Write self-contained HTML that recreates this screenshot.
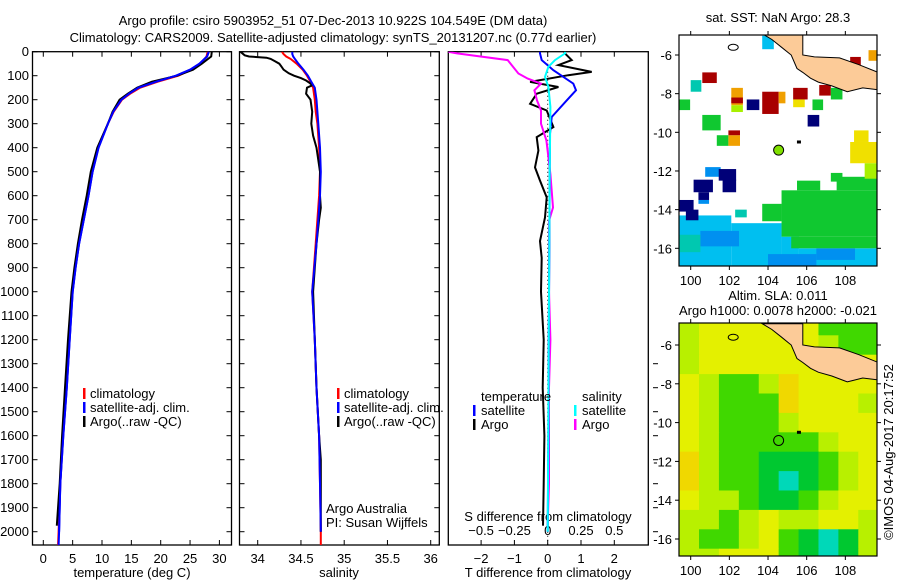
<!DOCTYPE html>
<html><head><meta charset="utf-8"><style>
html,body{margin:0;padding:0;background:#fff}
svg{display:block;font-family:"Liberation Sans",sans-serif}
text{font-size:13px;fill:#000}
</style></head><body>
<svg id="s" width="900" height="580" viewBox="0 0 900 580" xmlns="http://www.w3.org/2000/svg">
<rect width="900" height="580" fill="#fff"/>
<defs>
<clipPath id="c1"><rect x="32.5" y="51.7" width="199" height="493.3"/></clipPath>
<clipPath id="c2"><rect x="239.5" y="51.7" width="200" height="493.3"/></clipPath>
<clipPath id="c3"><rect x="448.3" y="51.7" width="200" height="493.3"/></clipPath>
<clipPath id="cm1"><rect x="679" y="35" width="198" height="231"/></clipPath>
<clipPath id="cm2"><rect x="679" y="323" width="198" height="233"/></clipPath>
</defs>
<text x="333" y="25" text-anchor="middle">Argo profile: csiro 5903952_51 07-Dec-2013 10.922S 104.549E (DM data)</text>
<text x="333" y="42" text-anchor="middle">Climatology: CARS2009. Satellite-adjusted climatology: synTS_20131207.nc (0.77d earlier)</text>
<g id="g1"></g>
<g id="g2"></g>
<g id="g3"></g>
<g id="m1"></g>
<g id="m2"></g>
<text transform="translate(893,452) rotate(-90)" text-anchor="middle">©IMOS 04-Aug-2017 20:17:52</text>
</svg>
<script>
// ---- data ----
const depthTicks=[0,100,200,300,400,500,600,700,800,900,1000,1100,1200,1300,1400,1500,1600,1700,1800,1900,2000];
const tempTicks=[0,5,10,15,20,25,30];
const salTicks=[34,34.5,35,35.5,36];
const tdTicks=[-2,-1,0,1,2];
const sdTicks=[-0.5,-0.25,0,0.25,0.5];
const sdTickLabels=['−0.5','−0.25','0','0.25','0.5'];
const tdTickLabels=['−2','−1','0','1','2'];
const dT=[0,20,50,75,100,125,150,175,200,250,300,400,500,600,700,800,900,1000,1200,1400,1600,1800,2000,2060];
const climT=[28.0,27.8,26.8,25.2,23.0,19.5,16.5,14.8,13.4,12.0,11.0,9.3,8.3,7.6,6.8,6.0,5.4,4.9,4.4,3.9,3.3,2.9,2.6,2.5];
const satT=[28.2,27.9,26.6,25.0,22.6,19.2,16.2,14.6,13.3,11.9,11.0,9.4,8.4,7.7,6.9,6.1,5.5,5.0,4.5,4.0,3.4,2.9,2.7,2.6];
const dTa=[0,20,50,75,100,125,150,175,200,250,300,400,500,600,700,800,900,1000,1200,1400,1600,1800,1975];
const argoT=[28.7,28.6,27.0,25.5,22.8,18.5,16.0,14.4,13.0,11.8,11.0,9.2,8.1,7.4,6.6,5.9,5.3,4.8,4.2,3.7,3.2,2.8,2.3];
const dS=[0,10,20,30,50,75,100,125,150,200,250,300,400,500,600,700,800,1000,1200,1400,1600,1800,2000,2060];
const climS=[34.28,34.30,34.33,34.38,34.45,34.52,34.57,34.61,34.64,34.66,34.67,34.69,34.71,34.72,34.71,34.69,34.67,34.63,34.66,34.68,34.71,34.72,34.73,34.73];
const satS=[34.40,34.40,34.41,34.43,34.47,34.53,34.58,34.62,34.66,34.68,34.69,34.70,34.72,34.73,34.72,34.70,34.68,34.63,34.66,34.68,34.71,34.72,34.73,34.73];
const dSa=[0,15,20,25,30,40,50,60,75,90,100,110,120,130,140,150,175,200,250,300,350,400,500,600,650,700,800,1000,1200,1400,1600,1700,1800,2000];
const argoS=[33.8,33.85,33.9,34.1,34.15,34.2,34.25,34.27,34.3,34.36,34.42,34.5,34.56,34.6,34.63,34.57,34.56,34.61,34.63,34.62,34.64,34.68,34.72,34.72,34.73,34.71,34.68,34.64,34.66,34.68,34.71,34.73,34.73,34.73];
const dTds=[0,7,35,77,133,161,203,272,342,500,800,1200,1600,2000];
const satTd=[-0.23,-0.23,-0.18,0.17,0.77,0.85,0.57,0.12,0.07,0.06,0.05,0.03,0.02,0.0];
const dTda=[0,7,35,56,84,98,126,147,175,217,245,314,356,412,482,537,607,691,789,859,1000,1200,1400,1600,1800,1975];
const argoTd=[0.5,0.52,0.72,0.32,1.32,0.62,-0.53,0.32,-0.33,-0.53,-0.03,0.17,-0.33,-0.28,-0.38,-0.23,-0.03,-0.08,-0.23,-0.18,-0.2,-0.12,-0.15,-0.1,-0.12,-0.14];
const dSda=[0,7,35,56,91,112,133,161,203,245,300,370,510,649,705,800,1000,1200,1400,1600,1800,1975];
const argoSd=[-0.75,-0.68,-0.30,-0.27,-0.22,-0.15,-0.05,-0.10,-0.08,-0.05,-0.05,-0.01,0.02,0.04,0.01,0.01,0.01,0.02,0.01,0.01,0.01,0.0];
const dSds=[0,7,35,63,105,147,230,500,1000,1500,2000];
const satSd=[0.13,0.13,0.055,0.005,-0.02,0.005,0.02,0.015,0.01,0.005,0.0];
const lonTicks=[100,102,104,106,108];
const latTicks=[-6,-8,-10,-12,-14,-16];
// SST blocks: lon0, lat0, lon1, lat1, category
const sstBlocks=[
[99.4,-14.3,102.1,-17.0,'cy'],[102.1,-14.7,104.7,-17,'cy'],[104.7,-15.4,105.6,-17,'cy'],[105.6,-16.0,109.7,-17,'cy'],
[100.5,-15.1,102.5,-15.9,'bl'],[104.0,-16.3,106.5,-16.9,'bl'],[106.5,-16.0,108.5,-16.6,'bl'],[99.4,-15.3,100.5,-16.2,'te'],
[105.5,-12.5,106.7,-13.0,'g'],[107.25,-12.1,107.85,-12.55,'g'],[107.55,-12.3,109.7,-13.0,'g'],[104.7,-13.0,109.7,-15.4,'g'],
[103.7,-13.7,104.7,-14.6,'g'],[105.2,-15.4,109.7,-16.0,'g'],[102.3,-14.0,102.9,-14.4,'te'],
[100.6,-6.9,101.35,-7.45,'dr'],[100.0,-7.3,100.55,-7.9,'te'],[99.4,-8.3,99.97,-8.85,'g'],
[103.7,-7.9,104.55,-9.05,'dr'],[104.55,-7.9,104.9,-8.5,'or'],[105.3,-7.7,106.05,-8.3,'dr'],[105.3,-8.3,105.9,-8.7,'ye'],
[106.3,-8.3,106.85,-8.85,'g'],[106.05,-9.1,106.65,-9.7,'na'],[102.9,-8.3,103.55,-8.85,'na'],
[102.1,-7.7,102.7,-8.6,'or'],[102.1,-8.2,102.7,-8.5,'dr'],[102.1,-8.6,102.7,-8.95,'lg'],
[100.6,-9.1,101.55,-9.9,'g'],[101.35,-10.15,101.95,-10.7,'g'],[101.95,-10.15,102.55,-10.7,'or'],[101.95,-9.9,102.55,-10.15,'dr'],
[106.65,-7.55,107.25,-8.1,'dr'],[107.25,-7.7,107.85,-8.3,'g'],[108.25,-6.1,108.8,-6.7,'dr'],[109.2,-5.75,109.7,-6.3,'or'],
[103.7,-5.0,104.3,-5.7,'cy'],[108.45,-9.9,109.2,-10.5,'ye'],[108.25,-10.5,109.7,-11.6,'ye'],[109.0,-11.6,109.7,-12.4,'lg'],
[100.75,-11.8,101.55,-12.3,'bl'],[101.45,-11.9,102.35,-12.5,'na'],[101.65,-12.45,102.35,-13.1,'na'],[100.15,-12.45,101.15,-13.1,'na'],
[100.4,-13.1,100.95,-13.5,'na'],[100.4,-13.5,100.95,-13.7,'bl'],[99.4,-13.5,100.15,-14.1,'na'],[99.75,-14.0,100.4,-14.55,'na']
];
const sstColor={cy:'#00bff0',bl:'#0090f0',te:'#00c8b0',g:'#10c830',dr:'#a80000',or:'#f0a000',ye:'#f0e000',lg:'#a8f000',na:'#000078'};
// SLA grid rows lat -5..-17 (1 deg), cols lon 99.4..109.7
const slaLat=[-5,-6,-7,-8,-9,-10,-11,-12,-13,-14,-15,-16,-17];
const slaLon=[99.4,100.43,101.46,102.49,103.52,104.55,105.58,106.61,107.64,108.67];
const slaGrid=[
[0,1,1,1,1,1,1,-1,-1,-1],
[0,1,1,1,1,1,1,0,-1,-1],
[0,1,1,1,1,1,1,1,1,1],
[1,0,-1,-1,0,2,1,1,1,1],
[1,0,-1,-1,-1,2,1,1,1,0],
[1,0,-1,-1,-1,0,1,1,1,1],
[1,0,-1,-1,-1,-1,-1,0,1,1],
[2,0,-1,-1,-2,-2,-2,-1,0,1],
[2,0,-1,-1,-2,-3,-2,-1,0,1],
[1,0,0,-1,-2,-2,-1,0,1,1],
[0,0,-1,0,1,0,0,1,1,0],
[0,-1,-1,0,1,-1,-2,-3,-2,0],
[0,0,1,1,1,-1,-2,-3,-2,0]];
const argoLon=104.549, argoLat=-10.922;

// ---- helpers ----
const NS='http://www.w3.org/2000/svg';
function mk(parent,tag,attrs){const e=document.createElementNS(NS,tag);for(const k in attrs)e.setAttribute(k,attrs[k]);parent.appendChild(e);return e;}
const yD=d=>51.7+d*0.2400;
const xT=t=>43.3+t*5.87;
const xS=s=>257.7+(s-34)*86.5;
const xTd=t=>547.7+t*33.3;
const xSd=s=>547.7+s*133.2;
function line(g,xs,ds,xf,col,clip,name){
  const pts=xs.map((v,i)=>xf(v).toFixed(1)+','+yD(ds[i]).toFixed(1)).join(' ');
  const p=mk(g,'polyline',{points:pts,fill:'none',stroke:col,'stroke-width':2,'clip-path':'url(#'+clip+')'});
  
  
}
function txt(g,x,y,s,anchor,name){const t=mk(g,'text',{x:x,y:y,'text-anchor':anchor||'start'});t.textContent=s;
  
  return t;}
function box(g,x0,x1,name){const r=mk(g,'rect',{x:x0,y:51.7,width:x1-x0,height:545-51.7,fill:'none',stroke:'#000','stroke-width':1.3});
  
  }
function depthTickMarks(g,x0,x1){depthTicks.forEach(d=>{const y=yD(d);mk(g,'line',{x1:x0,x2:x0+5,y1:y,y2:y,stroke:'#000'});mk(g,'line',{x1:x1,x2:x1-5,y1:y,y2:y,stroke:'#000'});});}
function xTickMarks(g,ticks,xf){ticks.forEach(v=>{const x=xf(v);mk(g,'line',{x1:x,x2:x,y1:545,y2:540,stroke:'#000'});mk(g,'line',{x1:x,x2:x,y1:51.7,y2:56.7,stroke:'#000'});});}
function legendBar(g,x,y,col){mk(g,'rect',{x:x,y:y-10,width:2.5,height:11,fill:col});}

// ---- panel 1 ----
const g1=document.getElementById('g1');
box(g1,32.5,231.5,'temperature-plot-frame');depthTickMarks(g1,32.5,231.5);xTickMarks(g1,tempTicks,xT);
depthTicks.forEach(d=>txt(g1,29,yD(d)+4.5,String(d),'end','depth-tick-label'));
tempTicks.forEach(t=>txt(g1,xT(t),563,String(t),'middle','temperature-tick-label'));
txt(g1,132,577,'temperature (deg C)','middle','temperature-axis-title');
line(g1,climT,dT,xT,'#f00','c1','temperature-climatology-line');
line(g1,satT,dT,xT,'#00f','c1','temperature-satellite-line');
line(g1,argoT,dTa,xT,'#000','c1','temperature-argo-line');
line(g1,satT.slice(0,23),dT.slice(0,23),xT,'#00f','c1','temperature-satellite-line-top');
legendBar(g1,83,398,'#f00');txt(g1,90,398,'climatology','start','legend-climatology');
legendBar(g1,83,412,'#00f');txt(g1,90,412,'satellite-adj. clim.','start','legend-satellite-adj');
legendBar(g1,83,426,'#000');txt(g1,90,426,'Argo(..raw -QC)','start','legend-argo');

// ---- panel 2 ----
const g2=document.getElementById('g2');
box(g2,239.5,439.3,'salinity-plot-frame');depthTickMarks(g2,239.5,439.3);xTickMarks(g2,salTicks,xS);
salTicks.forEach(s=>txt(g2,xS(s),563,String(s),'middle','salinity-tick-label'));
txt(g2,339,577,'salinity','middle','salinity-axis-title');
line(g2,climS,dS,xS,'#f00','c2','salinity-climatology-line');
line(g2,argoS,dSa,xS,'#000','c2','salinity-argo-line');
line(g2,satS.slice(0,23),dS.slice(0,23),xS,'#00f','c2','salinity-satellite-line');
legendBar(g2,337,398,'#f00');txt(g2,344,398,'climatology','start','legend-climatology');
legendBar(g2,337,412,'#00f');txt(g2,344,412,'satellite-adj. clim.','start','legend-satellite-adj');
legendBar(g2,337,426,'#000');txt(g2,344,426,'Argo(..raw -QC)','start','legend-argo');
txt(g2,326,513,'Argo Australia','start','credit-argo-australia');
txt(g2,326,527,'PI: Susan Wijffels','start','credit-pi');

// ---- panel 3 ----
const g3=document.getElementById('g3');
box(g3,448.3,648.3,'difference-plot-frame');xTickMarks(g3,tdTicks,xTd);
depthTicks.forEach(d=>{if(d>=1300){const y=yD(d);mk(g3,'line',{x1:653,x2:658,y1:y,y2:y,stroke:'#000'});}});
mk(g3,'line',{x1:xTd(0),x2:xTd(0),y1:51.7,y2:545,stroke:'#000','stroke-dasharray':'1,3','stroke-width':1});
tdTicks.forEach((t,i)=>txt(g3,xTd(t),563,tdTickLabels[i],'middle','t-diff-tick-label'));
sdTicks.forEach((s,i)=>txt(g3,xSd(s),535,sdTickLabels[i],'middle','s-diff-tick-label'));
txt(g3,548,577,'T difference from climatology','middle','t-diff-axis-title');
txt(g3,548,521,'S difference from climatology','middle','s-diff-axis-title');
line(g3,argoTd,dTda,xTd,'#000','c3','t-diff-argo-line');
line(g3,argoSd,dSda,xSd,'#f0f','c3','s-diff-argo-line');
line(g3,satTd,dTds,xTd,'#00f','c3','t-diff-satellite-line');
line(g3,satSd,dSds,xSd,'#0ff','c3','s-diff-satellite-line');
txt(g3,481,401,'temperature','start','legend-temperature-header');
legendBar(g3,473,415,'#00f');txt(g3,481,415,'satellite','start','legend-t-satellite');
legendBar(g3,473,429,'#000');txt(g3,481,429,'Argo','start','legend-t-argo');
txt(g3,582,401,'salinity','start','legend-salinity-header');
legendBar(g3,574,415,'#0ff');txt(g3,582,415,'satellite','start','legend-s-satellite');
legendBar(g3,574,429,'#f0f');txt(g3,582,429,'Argo','start','legend-s-argo');

// ---- maps ----
const xL=lon=>690.7+(lon-100)*19.33;
function mapAxes(g,top,bot,yLat){
  const r=mk(g,'rect',{x:679,y:top,width:198,height:bot-top,fill:'none',stroke:'#000','stroke-width':1.2});
  
  
  lonTicks.forEach(l=>{const x=xL(l);mk(g,'line',{x1:x,x2:x,y1:bot,y2:bot+4,stroke:'#000'});mk(g,'line',{x1:x,x2:x,y1:top,y2:top-4,stroke:'#000'});txt(g,x,bot+19,String(l),'middle','longitude-tick-label');});
  latTicks.forEach(l=>{const y=yLat(l);mk(g,'line',{x1:679,x2:675,y1:y,y2:y,stroke:'#000'});mk(g,'line',{x1:877,x2:881,y1:y,y2:y,stroke:'#000'});txt(g,672,y+5,String(l),'end','latitude-tick-label');});
}
function land(g,yLat,clip){
  const lonP=[103.7,105.8,105.8,106.4,107.7,108.7,109.7,109.7,108.9,108.1,107.3,106.6,106.2,105.8,105.5,105.2,104.7,104.2];
  const latP=[-4.9,-4.9,-6.0,-6.1,-6.15,-6.5,-6.9,-7.8,-7.7,-7.9,-7.6,-7.4,-7.2,-6.9,-6.7,-6.0,-5.6,-5.2];
  const pts=lonP.map((l,i)=>xL(l).toFixed(1)+','+yLat(latP[i]).toFixed(1)).join(' ');
  const p=mk(g,'polygon',{points:pts,fill:'#fccb98',stroke:'#000','stroke-width':1,'clip-path':'url(#'+clip+')'});
  
  
  mk(g,'ellipse',{cx:xL(102.2),cy:yLat(-5.6),rx:5,ry:3,fill:'none',stroke:'#000'});
  mk(g,'rect',{x:xL(105.6)-2,y:yLat(-10.5)-1.5,width:4,height:3,fill:'#000'});
}
// SST
const m1=document.getElementById('m1');
const yA=lat=>55+(-6-lat)*19.33;
txt(m1,778,22,'sat. SST: NaN Argo: 28.3','middle','sst-map-title');
sstBlocks.forEach(b=>{const r=mk(m1,'rect',{x:xL(b[0]),y:yA(b[1]),width:xL(b[2])-xL(b[0]),height:yA(b[3])-yA(b[1]),fill:sstColor[b[4]],'clip-path':'url(#cm1)'});
  
  });
land(m1,yA,'cm1');
const c1=mk(m1,'circle',{cx:xL(argoLon),cy:yA(argoLat),r:5,fill:'#80e000',stroke:'#000'});


mapAxes(m1,35,266,yA);
// SLA
const m2=document.getElementById('m2');
const yB=lat=>345+(-6-lat)*19.4;
txt(m2,778,300,'Altim. SLA: 0.011','middle','sla-map-title');
txt(m2,778,315,'Argo h1000: 0.0078 h2000: -0.021','middle','sla-map-subtitle');
const slaCol={'2':'#f0d800','1':'#e4f000','0':'#b8f000','-1':'#40d800','-2':'#00c830','-3':'#00d8b8'};
slaGrid.forEach((row,i)=>row.forEach((v,j)=>{
  const x0=xL(slaLon[j]),x1=j+1<slaLon.length?xL(slaLon[j+1]):877;
  const r=mk(m2,'rect',{x:x0,y:yB(slaLat[i]+0.5),width:x1-x0+0.5,height:19.9,fill:slaCol[String(v)],'clip-path':'url(#cm2)'});
  
  
}));
land(m2,yB,'cm2');
const c2=mk(m2,'circle',{cx:xL(argoLon),cy:yB(argoLat),r:5,fill:'none',stroke:'#000'});


mapAxes(m2,323,556,yB);
</script>
</body></html>
